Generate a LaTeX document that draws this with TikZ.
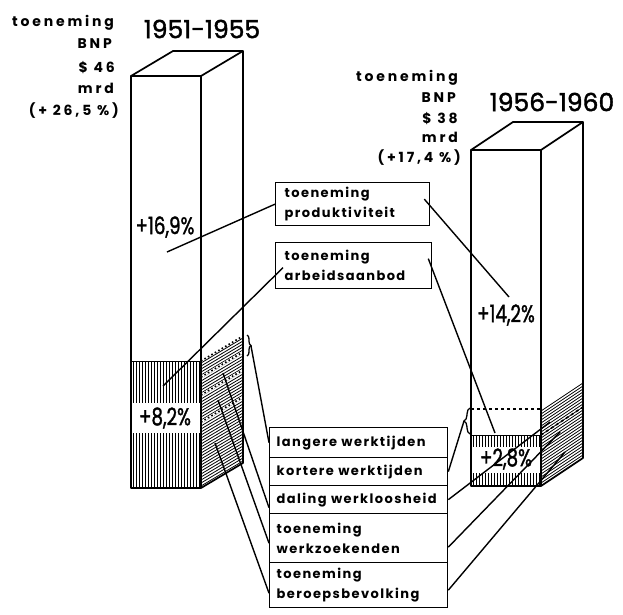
\documentclass[tikz,border=0pt]{standalone}
\usepackage{fontspec}
\usepackage{graphicx}
\setmainfont{Poppins}
\newfontfamily\lblfont[LetterSpace=11]{Poppins}
\newfontfamily\topfont[LetterSpace=20]{Poppins}
\newfontfamily\bigfont[FakeBold=1.6]{Poppins}
\usetikzlibrary{decorations.pathreplacing}
\begin{document}
\begin{tikzpicture}[x=1pt,y=-1pt,
  bar/.style={line width=1.7pt, line join=round},
  hatch/.style={line width=0.8pt},
  conn/.style={line width=1.4pt},
  box/.style={draw, line width=1.3pt, anchor=north west, inner ysep=0pt, inner xsep=7pt, align=left, font=\lblfont\bfseries\fontsize{13}{20}\selectfont},
  toplbl/.style={anchor=base east, inner sep=0pt, font=\topfont\bfseries\fontsize{14}{16}\selectfont},
  title/.style={inner sep=0pt, font=\bigfont\fontsize{25}{28}\selectfont},
  pct/.style={inner sep=0pt, font=\bigfont\fontsize{24}{27}\selectfont}]
\useasboundingbox (0,0) rectangle (623,614);

% ---------- left bar (1951-1955) ----------
\foreach \x in {133,136,...,199} \draw[hatch] (\x,361) -- (\x,403) (\x,433) -- (\x,488);
\foreach \k in {2,5,...,125} \draw[hatch] (201,361+\k) -- (243,336+\k);
\foreach \yy in {377,395,422} {
  \draw[white, line width=2.4pt] (201,\yy) -- (243,\yy-25);
  \draw[line width=1.6pt, dash pattern=on 1.6pt off 2.4pt] (201,\yy) -- (243,\yy-25);
}
\draw[line width=1.6pt, dash pattern=on 1.6pt off 2.4pt] (201,361) -- (243,336);
\draw[line width=1pt] (131,361) -- (201,361);
\draw[bar] (131,76) rectangle (201,488);
\draw[bar] (131,76) -- (173,51) -- (243,51) -- (201,76);
\draw[bar] (243,51) -- (243,463) -- (201,488);
\draw[line width=1.3pt, decorate, decoration={brace, amplitude=4pt}] (247,335) -- (247,356);

% ---------- right bar (1956-1960) ----------
\foreach \x in {473,476,...,539} \draw[hatch] (\x,435) -- (\x,447) (\x,473) -- (\x,486);
\foreach \k in {2,5,...,75} \draw[hatch] (541,409+\k) -- (583,381+\k);
\draw[line width=1pt] (471,435) -- (541,435);
\draw[line width=1.4pt, dashed] (471,409) -- (541,409);
\draw[line width=1.6pt, dash pattern=on 3pt off 3pt] (541,435) -- (583,407);
\draw[bar] (471,150) rectangle (541,486);
\draw[bar] (471,150) -- (513,122) -- (583,122) -- (541,150);
\draw[bar] (583,122) -- (583,458) -- (541,486);
\draw[line width=1.3pt, decorate, decoration={brace, amplitude=6pt}] (470,434) -- (470,408);

% ---------- titles and top labels ----------
\node[title] (t1) at (202,29) {1951-1955};
\node[title] (t2) at (552,102) {1956-1960};

\node[toplbl] (l1) at (114,26) {toeneming};
\node[toplbl] (l2) at (112,48) {BNP};
\node[toplbl] (l3) at (115,72) {\$ 46};
\node[toplbl] (l4) at (114,93) {mrd};
\node[toplbl] (l5) at (119,115) {(+ 26,5 \%)};

\node[toplbl] (r1l) at (458,81) {toeneming};
\node[toplbl] (r2l) at (456,102) {BNP};
\node[toplbl] (r3l) at (458,123) {\$ 38};
\node[toplbl] (r4l) at (458,142) {mrd};
\node[toplbl] (r5l) at (461,162) {(+17,4 \%)};

% ---------- percentages ----------
\node[pct] (p1) at (165,227) {\scalebox{0.76}[1]{+16,9\%}};
\node[pct] (p2) at (165,418) {\scalebox{0.76}[1]{+8,2\%}};
\node[pct] (p3) at (506,315) {\scalebox{0.76}[1]{+14,2\%}};
\node[pct] (p4) at (506,459) {\scalebox{0.76}[1]{+2,8\%}};

% ---------- label boxes ----------
\node[box, minimum width=154pt, minimum height=43pt, text width=136pt, inner xsep=9pt] (b1) at (275,182) {toeneming\\produktiviteit};
\node[box, minimum width=156pt, minimum height=46pt, text width=138pt, inner xsep=9pt] (b2) at (275,242) {toeneming\\arbeidsaanbod};

\node[box, minimum width=178pt, minimum height=30pt, text width=164pt] (q1) at (269,427) {langere werktijden};
\node[box, minimum width=178pt, minimum height=28pt, text width=164pt] (q2) at (269,457) {kortere werktijden};
\node[box, minimum width=178pt, minimum height=28pt, text width=164pt] (q3) at (269,485) {daling\ werkloosheid};
\node[box, minimum width=178pt, minimum height=49pt, text width=164pt] (q4) at (269,513) {toeneming\\werkzoekenden};
\node[box, minimum width=178pt, minimum height=45pt, text width=164pt] (q5) at (269,562) {toeneming\\beroepsbevolking};

% ---------- connector end points in the bars ----------
\coordinate (pL) at (167,252);
\coordinate (pR) at (509,297);
\coordinate (aL) at (163,386);
\coordinate (aR) at (495,433);
\coordinate (bL) at (251,346);
\coordinate (bR) at (464,421);
\coordinate (dL) at (223,373);
\coordinate (zL) at (218,400);
\coordinate (eL) at (215,443);
\coordinate (dR) at (550,422);
\coordinate (zR) at (560,432);
\coordinate (eR) at (565,452);

% ---------- connectors ----------
\draw[conn] (b1.west) -- (pL);
\draw[conn] ([xshift=-6pt,yshift=5pt]b1.east) -- (pR);
\draw[conn] ([xshift=8pt,yshift=-2pt]b2.west) -- (aL);
\draw[conn] ([xshift=-4pt,yshift=7pt]b2.east) -- (aR);
\draw[conn] (bL) -- (q1.west);
\draw[conn] (bR) -- (q2.east);
\draw[conn] (dL) -- ([yshift=-8pt]q3.west);
\draw[conn] (dR) -- (q3.east);
\draw[conn] (zL) -- ([yshift=-5pt]q4.west);
\draw[conn] (zR) -- ([yshift=-9pt]q4.east);
\draw[conn] (eL) -- ([yshift=-8pt]q5.west);
\draw[conn] (eR) -- ([yshift=-5pt]q5.east);
\end{tikzpicture}
\end{document}
